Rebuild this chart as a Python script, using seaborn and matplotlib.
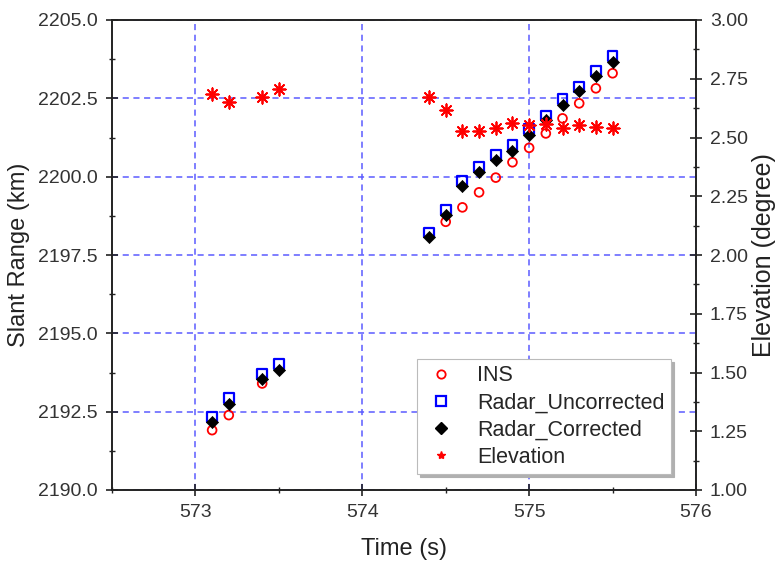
import matplotlib
matplotlib.use("Agg")
import matplotlib.pyplot as plt
from matplotlib.lines import Line2D
from matplotlib.ticker import MultipleLocator, FormatStrFormatter
import seaborn as sns
import pandas as pd

# Time stamps (s)
time_radar = [573.1, 573.2, 573.4, 573.5, 574.4, 574.5, 574.6, 574.7,
              574.8, 574.9, 575.0, 575.1, 575.2, 575.3, 575.4, 575.5]
time_ins = [573.1, 573.2, 573.4, 574.5, 574.6, 574.7, 574.8,
            574.9, 575.0, 575.1, 575.2, 575.3, 575.4, 575.5]

# Slant range (km)
ins_range = [2191.91, 2192.39, 2193.40, 2198.56, 2199.02, 2199.50, 2199.97,
             2200.46, 2200.92, 2201.38, 2201.86, 2202.34, 2202.82, 2203.30]
radar_uncorrected = [2192.34, 2192.93, 2193.70, 2194.01, 2198.22, 2198.94,
                     2199.86, 2200.32, 2200.69, 2201.01, 2201.52, 2201.95,
                     2202.47, 2202.87, 2203.38, 2203.85]
radar_corrected = [2192.18, 2192.74, 2193.54, 2193.83, 2198.06, 2198.78,
                   2199.70, 2200.16, 2200.53, 2200.83, 2201.33, 2201.81,
                   2202.29, 2202.73, 2203.21, 2203.67]

# Elevation angle (degree)
elevation = [2.684, 2.650, 2.671, 2.705, 2.674, 2.617, 2.529, 2.529,
             2.542, 2.563, 2.552, 2.557, 2.542, 2.552, 2.543, 2.542]

ins_df = pd.DataFrame({"time": time_ins, "range": ins_range})
radar_df = pd.DataFrame({"time": time_radar,
                         "uncorrected": radar_uncorrected,
                         "corrected": radar_corrected,
                         "elevation": elevation})

sns.set_theme(style="ticks")
plt.rcParams["font.family"] = ["Liberation Sans", "DejaVu Sans"]
plt.rcParams["axes.linewidth"] = 1.2
plt.rcParams["axes.edgecolor"] = "#222222"

fig = plt.figure(figsize=(7.76, 5.66), dpi=100)
ax = fig.add_axes([112 / 776, 1 - 490 / 566, (696 - 112) / 776, 470 / 566])

sns.scatterplot(data=ins_df, x="time", y="range", ax=ax, marker="o",
                s=40, facecolor="none", edgecolor="red", linewidth=1.3,
                zorder=3)
sns.scatterplot(data=radar_df, x="time", y="uncorrected", ax=ax, marker="s",
                s=50, facecolor="none", edgecolor="blue", linewidth=1.6,
                zorder=4)
sns.scatterplot(data=radar_df, x="time", y="corrected", ax=ax, marker="D",
                s=38, color="black", edgecolor="black", linewidth=0.5,
                zorder=5)

ax.set_xlim(572.5, 576)
ax.set_ylim(2190, 2205)
ax.xaxis.set_major_locator(MultipleLocator(1))
ax.xaxis.set_minor_locator(MultipleLocator(0.5))
ax.yaxis.set_major_locator(MultipleLocator(2.5))
ax.yaxis.set_minor_locator(MultipleLocator(1.25))
ax.yaxis.set_major_formatter(FormatStrFormatter("%.1f"))
ax.xaxis.set_major_formatter(FormatStrFormatter("%d"))
ax.grid(True, which="major", color="#5b5bff", linestyle=(0, (4, 3)),
        linewidth=1.1, zorder=0)
ax.set_axisbelow(True)
ax.tick_params(which="major", direction="inout", length=8, width=1.2,
               labelsize=14, pad=6, colors="#222222", labelcolor="#333333")
ax.tick_params(which="minor", direction="inout", length=5, width=1.0,
               colors="#222222")
ax.tick_params(axis="x", which="both", top=False)
ax.set_xlabel("Time (s)", fontsize=17, labelpad=12, color="#222222")
ax.set_ylabel("Slant Range (km)", fontsize=17, labelpad=6, color="#222222")
for sp in ax.spines.values():
    sp.set_visible(True)

ax2 = ax.twinx()
sns.scatterplot(data=radar_df, x="time", y="elevation", ax=ax2,
                marker=(8, 2, 0), s=80, color="red", linewidth=1.3,
                zorder=6)
ax2.set_ylim(1.0, 3.0)
ax2.yaxis.set_major_locator(MultipleLocator(0.25))
ax2.yaxis.set_minor_locator(MultipleLocator(0.125))
ax2.yaxis.set_major_formatter(FormatStrFormatter("%.2f"))
ax2.tick_params(which="major", direction="inout", length=8, width=1.2,
                labelsize=14, pad=6, colors="#222222", labelcolor="#333333")
ax2.tick_params(which="minor", direction="inout", length=5, width=1.0,
                colors="#222222")
ax2.set_ylabel("Elevation (degree)", fontsize=18, labelpad=3,
               color="#222222")
ax2.grid(False)

handles = [
    Line2D([], [], linestyle="none", marker="o", markersize=6,
           markerfacecolor="none", markeredgecolor="red", markeredgewidth=1.3),
    Line2D([], [], linestyle="none", marker="s", markersize=7,
           markerfacecolor="none", markeredgecolor="blue", markeredgewidth=1.6),
    Line2D([], [], linestyle="none", marker="D", markersize=6,
           color="black"),
    Line2D([], [], linestyle="none", marker="*", markersize=6,
           color="red"),
]
labels = ["INS", "Radar_Uncorrected", "Radar_Corrected", "Elevation"]
leg = ax2.legend(handles, labels, loc="upper left",
                 bbox_to_anchor=(417 / 776, 1 - 359 / 566),
                 bbox_transform=fig.transFigure, fontsize=15.5,
                 frameon=True, fancybox=False, edgecolor="#bbbbbb",
                 framealpha=1, labelspacing=0.28, handletextpad=0.9,
                 handlelength=1.6, borderpad=0.3, borderaxespad=0,
                 shadow={"color": "#b0b0b0", "alpha": 1})
leg.get_frame().set_linewidth(0.8)

fig.savefig("out.png", dpi=100)
